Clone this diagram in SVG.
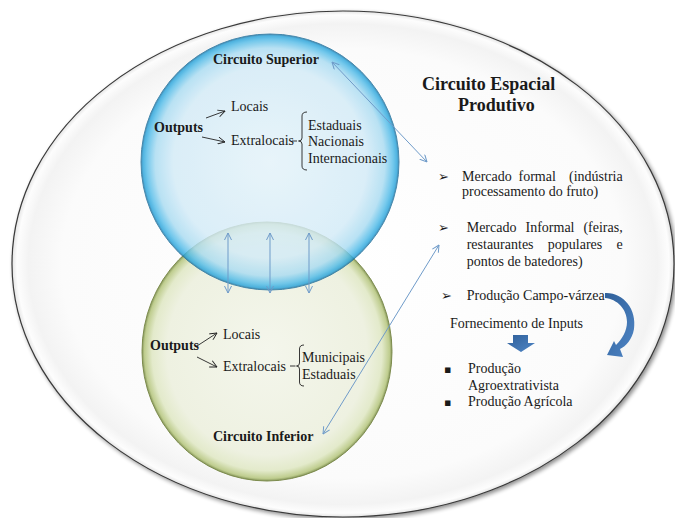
<svg xmlns="http://www.w3.org/2000/svg" width="675" height="518" viewBox="0 0 675 518">
<style>
.con{fill:none;stroke:#6f9bc9;stroke-width:1}
.blk{fill:none;stroke:#222;stroke-width:0.9}
</style>
<defs>
<radialGradient id="gOuter" cx="50%" cy="50%" r="50%">
<stop offset="0" stop-color="#ffffff"/>
<stop offset="0.85" stop-color="#fbfbfb"/>
<stop offset="0.95" stop-color="#f3f3f3"/>
<stop offset="0.985" stop-color="#fdfdfd"/>
<stop offset="1" stop-color="#e4e4e4"/>
</radialGradient>
<radialGradient id="gBlue" cx="50%" cy="50%" r="50%">
<stop offset="0" stop-color="#e4f3fa"/>
<stop offset="0.75" stop-color="#d3ebf7"/>
<stop offset="0.89" stop-color="#aadcf2"/>
<stop offset="0.955" stop-color="#55bde9"/>
<stop offset="0.985" stop-color="#2aa4db"/>
<stop offset="1" stop-color="#1d6f9c"/>
</radialGradient>
<radialGradient id="gGreen" cx="50%" cy="50%" r="50%">
<stop offset="0" stop-color="#f4f6ec"/>
<stop offset="0.8" stop-color="#eef1e1"/>
<stop offset="0.92" stop-color="#e3eacb"/>
<stop offset="0.98" stop-color="#bfcd8f"/>
<stop offset="1" stop-color="#86965a"/>
</radialGradient>
<linearGradient id="gArr" x1="0" y1="0" x2="1" y2="1">
<stop offset="0" stop-color="#2f5f99"/>
<stop offset="1" stop-color="#4f86c6"/>
</linearGradient>
<filter id="sh" x="-5%" y="-5%" width="110%" height="110%">
<feGaussianBlur in="SourceAlpha" stdDeviation="2"/>
<feOffset dx="2" dy="2"/>
<feComponentTransfer><feFuncA type="linear" slope="0.45"/></feComponentTransfer>
<feMerge><feMergeNode/><feMergeNode in="SourceGraphic"/></feMerge>
</filter>
<marker id="ah" viewBox="0 0 8 8" refX="7.5" refY="4" markerWidth="8" markerHeight="8" markerUnits="userSpaceOnUse" orient="auto-start-reverse">
<path d="M0.5,0.5 L7.5,4 L0.5,7.5" fill="none" stroke="#6f9bc9" stroke-width="1"/>
</marker>
<marker id="ak" viewBox="0 0 8 8" refX="7.5" refY="4" markerWidth="8" markerHeight="8" markerUnits="userSpaceOnUse" orient="auto">
<path d="M0.5,0.5 L7.5,4 L0.5,7.5" fill="none" stroke="#222" stroke-width="0.9"/>
</marker>
</defs>

<g id="outer">
<ellipse cx="343" cy="264" rx="331" ry="253" fill="url(#gOuter)" stroke="#3a3a3a" stroke-width="1.2" filter="url(#sh)"/>
</g>

<g id="circuito-inferior">
<ellipse cx="267" cy="351.5" rx="125" ry="129.5" fill="url(#gGreen)" stroke="#7d8c4e" stroke-width="1"/>
</g>

<g id="circuito-superior">
<ellipse cx="270" cy="162" rx="129" ry="128" fill="url(#gBlue)" stroke="#1d6f9c" stroke-width="1" opacity="0.82"/>
</g>

<g id="connectors">
<line class="con" x1="228" y1="233" x2="228" y2="293" marker-start="url(#ah)" marker-end="url(#ah)"/>
<line class="con" x1="270" y1="233" x2="270" y2="293" marker-start="url(#ah)" marker-end="url(#ah)"/>
<line class="con" x1="309" y1="233" x2="309" y2="293" marker-start="url(#ah)" marker-end="url(#ah)"/>
<line class="con" x1="332" y1="62" x2="427" y2="162" marker-start="url(#ah)" marker-end="url(#ah)"/>
<line class="con" x1="439" y1="245" x2="323" y2="434" marker-start="url(#ah)" marker-end="url(#ah)"/>
<line class="blk" x1="206" y1="118" x2="225" y2="111" marker-end="url(#ak)"/>
<line class="blk" x1="202" y1="137" x2="225" y2="142" marker-end="url(#ak)"/>
<line class="blk" x1="197" y1="346" x2="217" y2="333" marker-end="url(#ak)"/>
<line class="blk" x1="197" y1="357" x2="217" y2="367" marker-end="url(#ak)"/>
</g>

<g id="superior-texts" fill="#1a1a1a">
<text font-family="Liberation Serif" font-size="14" font-weight="bold" x="213" y="64">Circuito Superior</text>
<text font-family="Liberation Serif" font-size="14" font-weight="bold" x="154" y="132">Outputs</text>
<text font-family="Liberation Serif" font-size="14" x="231" y="111">Locais</text>
<text font-family="Liberation Serif" font-size="14" x="231" y="144.5">Extralocais</text>
<line class="blk" x1="292" y1="141" x2="297" y2="141"/>
<path class="blk" d="M307,112 Q302,112 302,116 L302,138 Q302,141 298.5,141 Q302,141 302,144 L302,166 Q302,170 307,170"/>
<text font-family="Liberation Serif" font-size="14" x="308" y="130">Estaduais</text>
<text font-family="Liberation Serif" font-size="14" x="308" y="146">Nacionais</text>
<text font-family="Liberation Serif" font-size="14" x="308" y="162.5">Internacionais</text>
</g>

<g id="inferior-texts" fill="#1a1a1a">
<text font-family="Liberation Serif" font-size="14" font-weight="bold" x="150" y="350">Outputs</text>
<text font-family="Liberation Serif" font-size="14" x="223" y="338.5">Locais</text>
<text font-family="Liberation Serif" font-size="14" x="223" y="371">Extralocais</text>
<line class="blk" x1="290" y1="366" x2="295.5" y2="366"/>
<path class="blk" d="M304,345 Q299.5,345 299.5,349 L299.5,363 Q299.5,366 296.5,366 Q299.5,366 299.5,369 L299.5,382 Q299.5,386 304,386"/>
<text font-family="Liberation Serif" font-size="14" x="302" y="362">Municipais</text>
<text font-family="Liberation Serif" font-size="14" x="302" y="378.5">Estaduais</text>
<text font-family="Liberation Serif" font-size="14" font-weight="bold" x="213" y="441">Circuito Inferior</text>
</g>

<g id="espacial" fill="#1a1a1a">
<text font-family="Liberation Serif" font-size="18" font-weight="bold" x="422" y="89.5">Circuito Espacial</text>
<text font-family="Liberation Serif" font-size="18" font-weight="bold" x="458" y="110.5">Produtivo</text>

<text font-family="DejaVu Sans" font-size="13" x="438" y="181">➢</text>
<text font-family="Liberation Serif" font-size="14" x="462" y="181">Mercado</text>
<text font-family="Liberation Serif" font-size="14" x="518.5" y="181">formal</text>
<text font-family="Liberation Serif" font-size="14" x="622.7" y="181" text-anchor="end">(indústria</text>
<text font-family="Liberation Serif" font-size="14" x="462" y="196">processamento do fruto)</text>

<text font-family="DejaVu Sans" font-size="13" x="438" y="232">➢</text>
<text font-family="Liberation Serif" font-size="14" x="466.7" y="232">Mercado</text>
<text font-family="Liberation Serif" font-size="14" x="525.5" y="232">Informal</text>
<text font-family="Liberation Serif" font-size="14" x="622.7" y="232" text-anchor="end">(feiras,</text>
<text font-family="Liberation Serif" font-size="14" x="466.7" y="249">restaurantes</text>
<text font-family="Liberation Serif" font-size="14" x="547.8" y="249">populares</text>
<text font-family="Liberation Serif" font-size="14" x="622.7" y="249" text-anchor="end">e</text>
<text font-family="Liberation Serif" font-size="14" x="466.7" y="266">pontos de batedores)</text>

<text font-family="DejaVu Sans" font-size="13" x="441" y="300">➢</text>
<text font-family="Liberation Serif" font-size="14" x="466.7" y="300">Produção Campo-várzea</text>
<path fill="url(#gArr)" d="M605,293 C623,292 637,309 634,329 C632,340 626,346 620,349 L623,357 L607,355 L614,341 L616,345 C622,339 627,331 627,322 C627,309 617,299 605,298 Z"/>

<text font-family="Liberation Serif" font-size="14" x="450" y="327.5">Fornecimento de Inputs</text>
<path fill="url(#gArr)" d="M513,335 L528,335 L528,343 L535,343 L521,352 L507,343 L513,343 Z"/>

<text font-family="DejaVu Sans" font-size="11" x="444" y="373">▪</text>
<text font-family="Liberation Serif" font-size="14" x="468" y="373">Produção</text>
<text font-family="Liberation Serif" font-size="14" x="468" y="390">Agroextrativista</text>
<text font-family="DejaVu Sans" font-size="11" x="444" y="406">▪</text>
<text font-family="Liberation Serif" font-size="14" x="468" y="406">Produção Agrícola</text>
</g>
</svg>
